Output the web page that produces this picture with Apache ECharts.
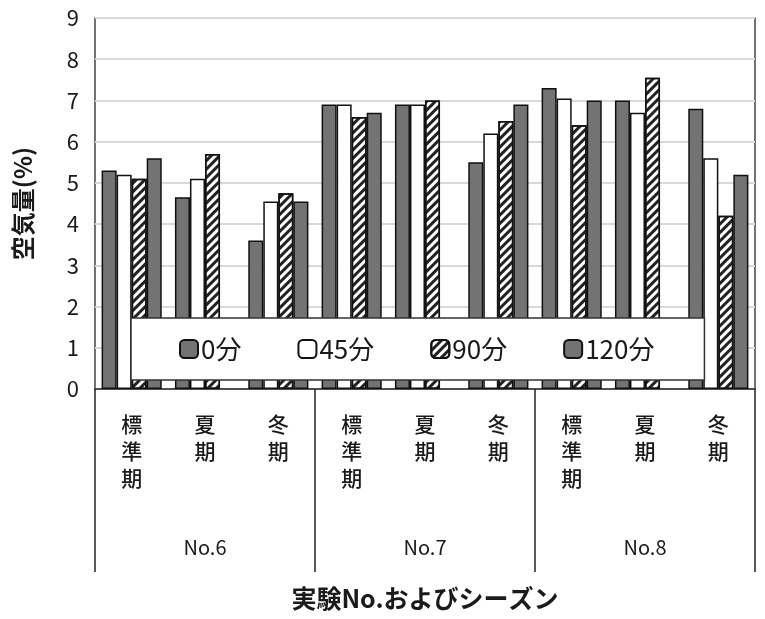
<!DOCTYPE html>
<html>

<head>
    <meta charset="utf-8">
    <title>空気量</title>
    <script src="https://cdn.jsdelivr.net/npm/echarts@6/dist/echarts.min.js"></script>
</head>
<style>
    html, body {
        margin: 0;
        padding: 0;
        background-color: #fff;
    }

    #chart {
        width: 765px;
        height: 619px;
    }
</style>

<body>
    <div id="chart"></div>
    <script>
        var seasons = ['標準期', '夏期', '冬期', '標準期', '夏期', '冬期', '標準期', '夏期', '冬期'];
        var groups = ['No.6', 'No.7', 'No.8'];
        var yTicks = [0, 1, 2, 3, 4, 5, 6, 7, 8, 9];
        var min0 = [5.3, 4.65, 3.6, 6.9, 6.9, 5.5, 7.3, 7.0, 6.8];
        var min45 = [5.2, 5.1, 4.55, 6.9, 6.9, 6.2, 7.05, 6.7, 5.6];
        var min90 = [5.1, 5.7, 4.75, 6.6, 7.0, 6.5, 6.4, 7.55, 4.2];
        var min120 = [5.6, null, 4.55, 6.7, null, 6.9, 7.0, null, 5.2];
        var seriesNames = ['0分', '45分', '90分', '120分'];

        var font = '"Noto Sans CJK JP", "Noto Sans", sans-serif';
        var chart = echarts.init(document.getElementById('chart'));

        var border = { borderColor: '#111', borderWidth: 1.5 };
        function bar(name, data, style) {
            return {
                name: name,
                type: 'bar',
                data: data,
                barGap: '0%',
                barCategoryGap: '18%',
                itemStyle: Object.assign({}, border, style)
            };
        }

        var option = {
            animation: false,
            textStyle: { fontFamily: font },
            grid: {
                left: 95, right: 10, top: 18, bottom: 230,
                show: true, borderColor: '#444', borderWidth: 1.5
            },
            legend: {
                data: seriesNames,
                left: 131, top: 318,
                padding: [18, 50, 18, 48],
                itemGap: 56,
                itemWidth: 18, itemHeight: 18,
                icon: 'roundRect',
                backgroundColor: '#fff',
                borderColor: '#333', borderWidth: 1.5,
                textStyle: { fontSize: 26, color: '#1a1a1a', fontFamily: font, padding: [0, 0, 0, -2] }
            },
            xAxis: [{
                type: 'category',
                data: seasons,
                axisLine: { lineStyle: { color: '#222', width: 1.5 } },
                axisTick: { show: false },
                axisLabel: {
                    interval: 0, margin: 22, fontSize: 21, lineHeight: 27, color: '#1a1a1a',
                    fontWeight: 500,
                    verticalAlign: 'top',
                    formatter: function (v) { return v.split('').join('\n'); }
                }
            }, {
                type: 'category',
                data: groups,
                position: 'bottom',
                axisLine: { show: false },
                axisTick: { show: true, length: 183, lineStyle: { color: '#222', width: 1.5 } },
                axisLabel: { margin: 148, fontSize: 20, color: '#1a1a1a' },
                name: '実験No.およびシーズン',
                nameLocation: 'middle',
                nameGap: 197,
                nameTextStyle: { fontSize: 25, color: '#1a1a1a', fontWeight: 'bold' }
            }],
            yAxis: {
                type: 'value',
                min: yTicks[0], max: yTicks[yTicks.length - 1], interval: 1,
                axisLine: { show: false },
                axisTick: { show: false },
                axisLabel: { fontSize: 22, color: '#1a1a1a', margin: 16 },
                splitLine: { lineStyle: { color: '#d9d9d9', width: 2 } },
                name: '空気量(%)',
                nameLocation: 'middle',
                nameRotate: 90,
                nameGap: 60,
                nameTextStyle: { fontSize: 24, color: '#1a1a1a', fontWeight: 'bold' }
            },
            series: [
                bar(seriesNames[0], min0, { color: '#737373' }),
                bar(seriesNames[1], min45, { color: '#fff' }),
                bar(seriesNames[2], min90, {
                    color: '#fff',
                    decal: {
                        symbol: 'rect', symbolSize: 1,
                        dashArrayX: [1, 0], dashArrayY: [3, 3],
                        rotation: -Math.PI / 4, color: '#222'
                    }
                }),
                bar(seriesNames[3], min120, { color: '#737373' })
            ]
        };

        chart.setOption(option);
    </script>
</body>

</html>
